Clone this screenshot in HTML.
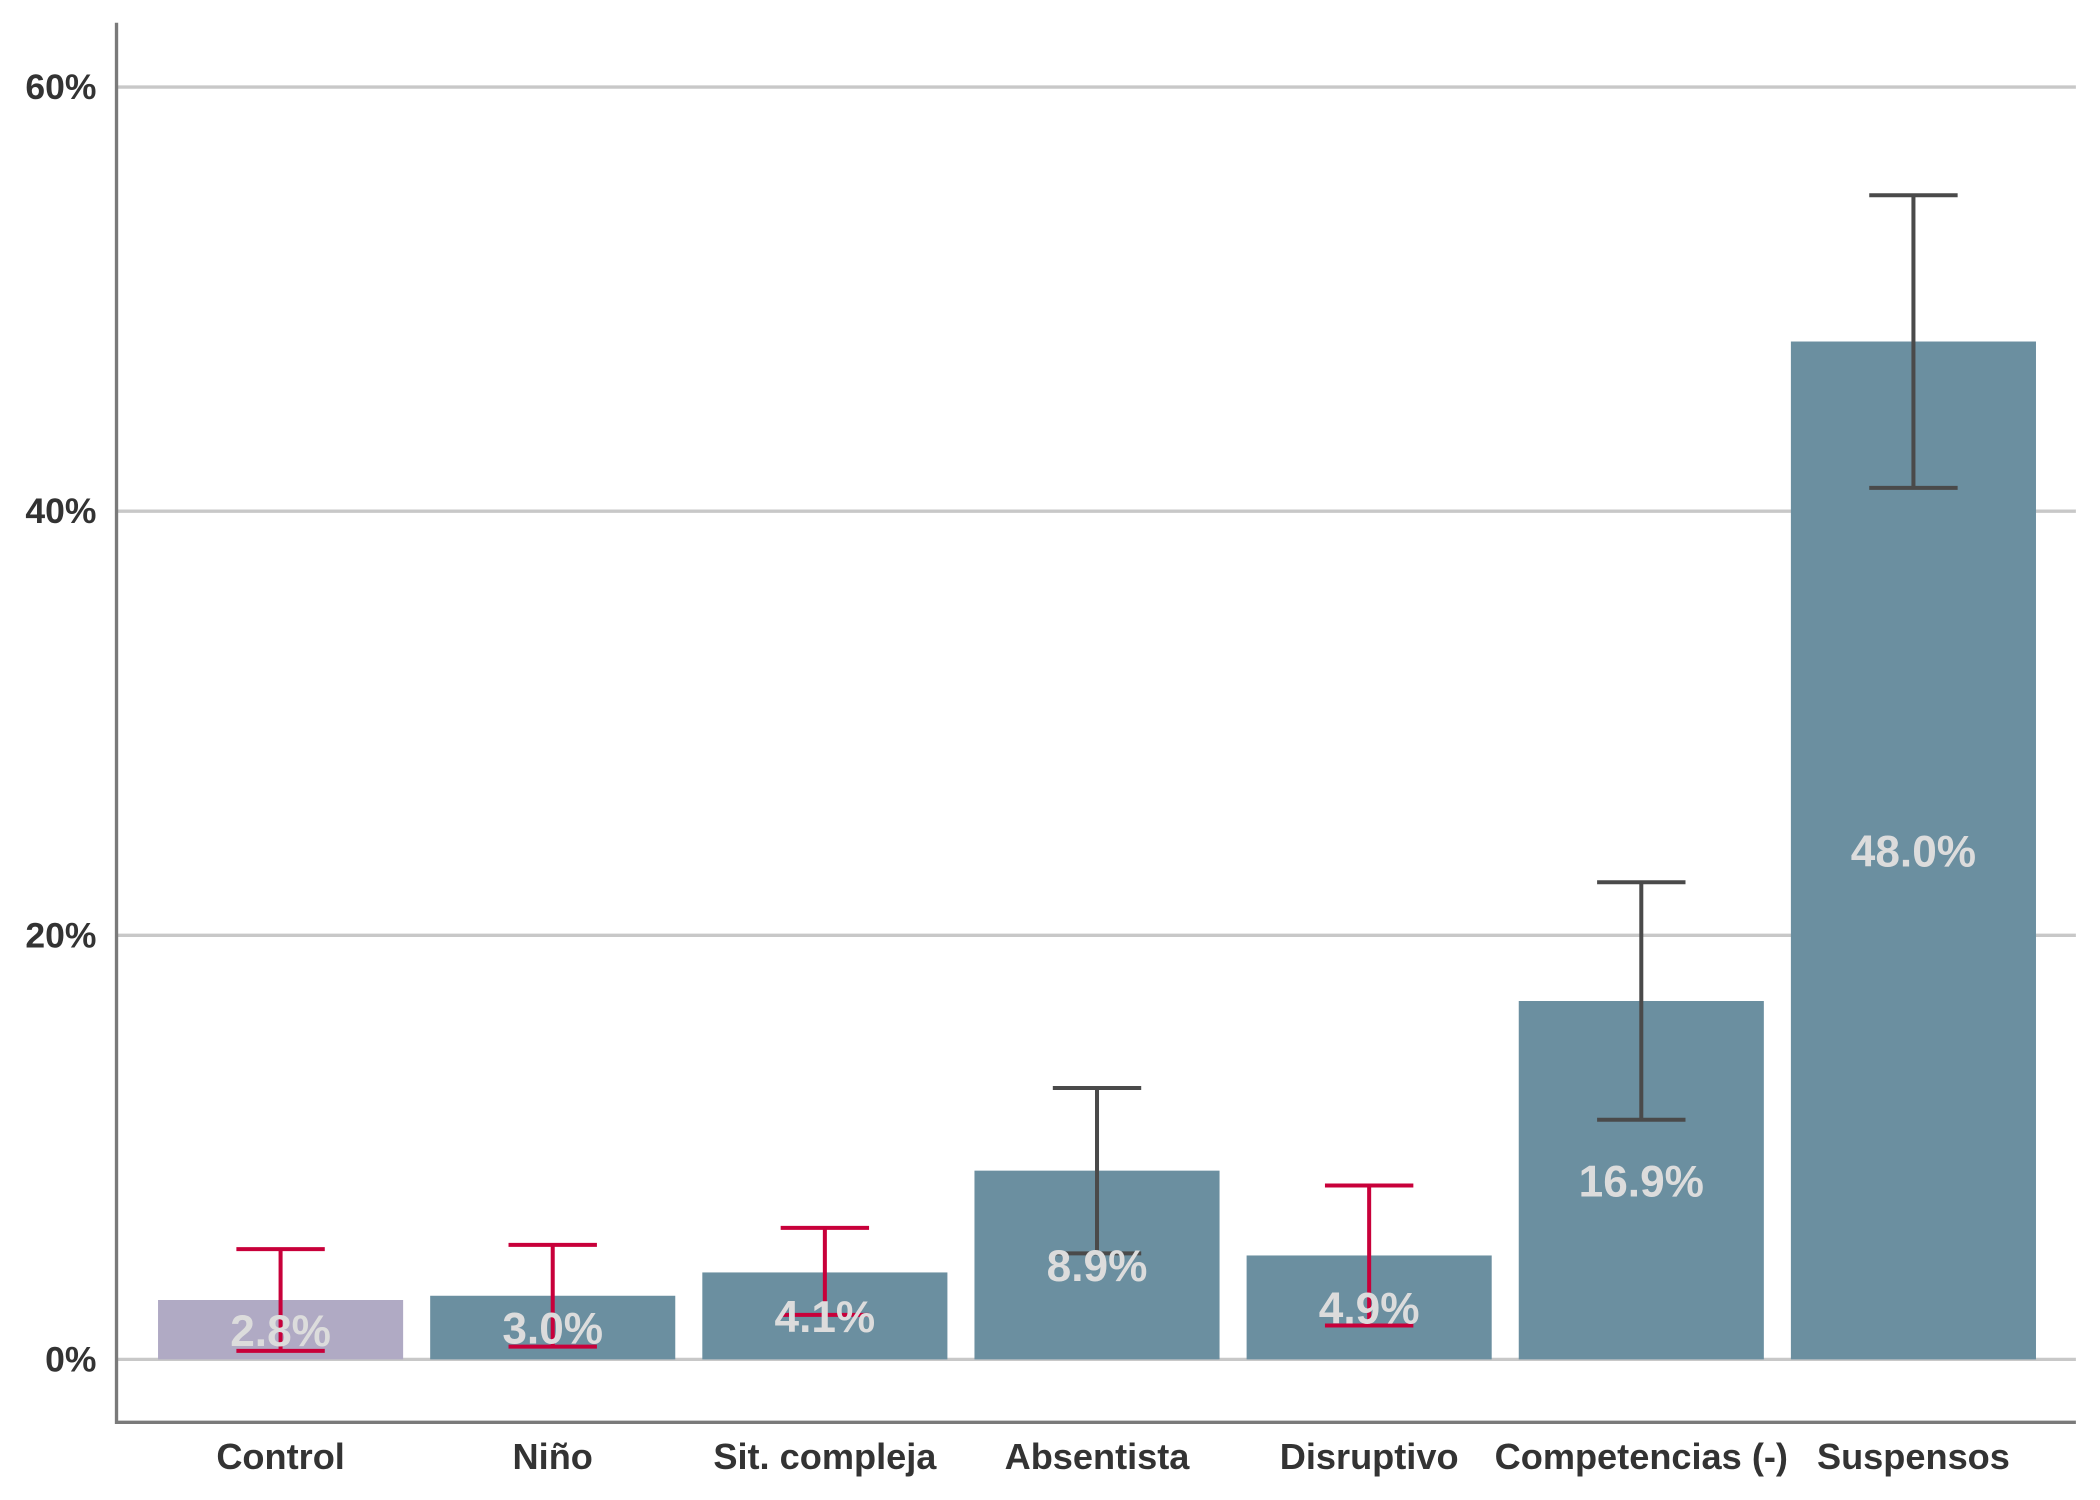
<!DOCTYPE html>
<html><head><meta charset="utf-8"><style>
html,body{margin:0;padding:0;background:#fff;}
svg{display:block;font-family:"Liberation Sans",Arial,sans-serif;}
</style></head><body>
<svg id="chart" width="2100" height="1500" viewBox="0 0 1568 1120" preserveAspectRatio="none" xmlns="http://www.w3.org/2000/svg"></svg>
<script>
const categories=["Control","Niño","Sit. compleja","Absentista","Disruptivo","Competencias (-)","Suspensos"];
const values=[2.8,3.0,4.1,8.9,4.9,16.9,48.0];
const errLow=[0.4,0.6,2.1,5.0,1.6,11.3,41.1];
const errHigh=[5.2,5.4,6.2,12.8,8.2,22.5,54.9];
const significant=[true,true,true,false,true,false,false];
const yTicks=[0,20,40,60];
const tickLabels=["0%","20%","40%","60%"];

const NS="http://www.w3.org/2000/svg";
const svg=document.getElementById('chart');
const x0=87,x1=1550,y0=1015,pxPer=(1015-65)/60;
const step=203.2,firstC=209.5,barW=183;
const y=v=>y0-v*pxPer;
const xc=i=>firstC+i*step;
function mk(tag,attrs,parent){const e=document.createElementNS(NS,tag);for(const k in attrs)e.setAttribute(k,attrs[k]);(parent||svg).appendChild(e);return e;}

const grid=mk('g',{});


yTicks.forEach((t,i)=>{
  const l=mk('line',{x1:x0,x2:x1,y1:y(t),y2:y(t),stroke:'#c8c8c8','stroke-width':2.5},grid);
  
  
  const tx=mk('text',{x:72,y:y(t)+9,'text-anchor':'end','font-size':26.5,'font-weight':'bold',fill:'#333'});
  tx.textContent=tickLabels[i];
  
  
});

values.forEach((v,i)=>{
  const b=mk('rect',{x:xc(i)-barW/2,y:y(v),width:barW,height:y0-y(v),fill:i===0?'#b0aac4':'#6b8fa0'});
  
  
});
values.forEach((v,i)=>{
  const c=significant[i]?'#c8003a':'#4a4a4a';
  const g=mk('g',{stroke:c,'stroke-width':3});
  
  
  mk('line',{x1:xc(i),x2:xc(i),y1:y(errLow[i]),y2:y(errHigh[i])},g);
  mk('line',{x1:xc(i)-33,x2:xc(i)+33,y1:y(errLow[i]),y2:y(errLow[i])},g);
  mk('line',{x1:xc(i)-33,x2:xc(i)+33,y1:y(errHigh[i]),y2:y(errHigh[i])},g);
});
values.forEach((v,i)=>{
  const t=mk('text',{x:xc(i),y:(y(v)+y0)/2+12,'text-anchor':'middle','font-size':33,'font-weight':'bold',fill:'#dcdcdc'});
  t.textContent=v.toFixed(1)+'%';
  
  
  const c=mk('text',{x:xc(i),y:1097,'text-anchor':'middle','font-size':27,'font-weight':'bold',fill:'#333'});
  c.textContent=categories[i];
  
  
});
const ax=mk('path',{d:`M${x0} 17 V1062 H${x1}`,fill:'none',stroke:'#7a7a7a','stroke-width':2.5});


</script>
</body></html>
